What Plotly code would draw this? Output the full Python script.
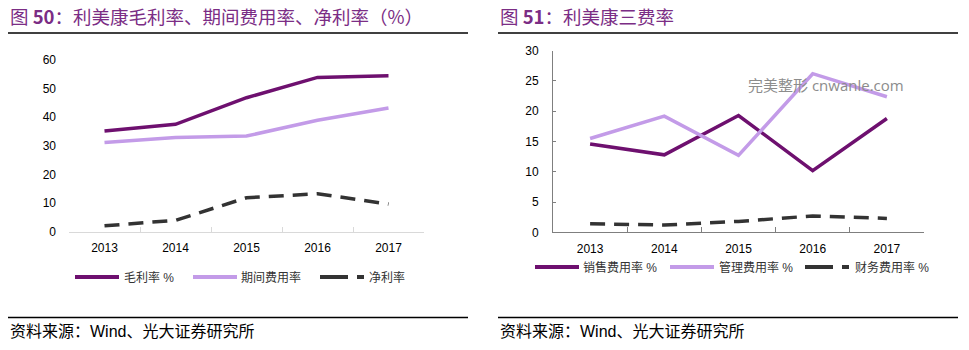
import plotly.graph_objects as go

years = ["2013", "2014", "2015", "2016", "2017"]

# Figure 50
gross_margin = [35.2, 37.5, 46.8, 53.9, 54.5]
period_expense = [31.1, 32.9, 33.4, 38.9, 43.2]
net_margin = [2.0, 3.9, 11.8, 13.2, 9.6]

# Figure 51
sales_exp = [14.6, 12.8, 19.3, 10.2, 18.8]
admin_exp = [15.5, 19.2, 12.7, 26.2, 22.4]
fin_exp = [1.4, 1.2, 1.8, 2.7, 2.3]

left_names = ["毛利率 %", "期间费用率", "净利率"]
right_names = ["销售费用率 %", "管理费用率 %", "财务费用率 %"]
left_title = "图 <b>50</b>：利美康毛利率、期间费用率、净利率（%）"
right_title = "图 <b>51</b>：利美康三费率"
source = "资料来源：Wind、光大证券研究所"
watermark = "完美整形 cnwanle.com"

DARK = "#6E106F"
LIGHT = "#C39BE8"
GRAY = "#333333"
TITLE_C = "#7B2D85"
FONT = "Liberation Sans, Arial, Noto Sans CJK SC, sans-serif"

W, H = 969, 350
def px(x):
    return x / W
def py(y):
    return 1 - y / H

fig = go.Figure()
styles = [dict(color=DARK, width=3.5), dict(color=LIGHT, width=3.5),
          dict(color=GRAY, width=3.5, dash="15px,9px")]

for vals, name, st in zip([gross_margin, period_expense, net_margin], left_names, styles):
    fig.add_trace(go.Scatter(x=years, y=vals, name=name, mode="lines", line=st,
                             xaxis="x", yaxis="y", showlegend=False))
for vals, name, st in zip([sales_exp, admin_exp, fin_exp], right_names, styles):
    fig.add_trace(go.Scatter(x=years, y=vals, name=name, mode="lines", line=st,
                             xaxis="x2", yaxis="y2", showlegend=False))

tickfont = dict(family=FONT, size=12, color="#000000")
cat_range = [-0.5, len(years) - 0.5]

fig.update_layout(
    width=W, height=H, margin=dict(l=0, r=0, t=0, b=0, autoexpand=False),
    autosize=False,
    paper_bgcolor="white", plot_bgcolor="white",
    font=dict(family=FONT, size=12, color="#000"),
    showlegend=False,
    xaxis=dict(domain=[px(69), px(424)], type="category", range=cat_range, showgrid=False,
               showline=True, linecolor="#D9D9D9", linewidth=1,
               ticks="inside", tickson="boundaries", ticklen=5, tickcolor="#D9D9D9",
               tickfont=tickfont, ticklabelstandoff=5, anchor="y", fixedrange=True,
               automargin=False),
    yaxis=dict(domain=[py(231.5), py(60)], range=[0, 60], dtick=10, showgrid=False,
               showline=False, zeroline=False, ticks="", tickfont=tickfont,
               ticklabelstandoff=12, anchor="x", fixedrange=True, automargin=False),
    xaxis2=dict(domain=[px(553), px(924)], type="category", range=cat_range, showgrid=False,
                showline=True, linecolor="#7F7F7F", linewidth=1,
                ticks="inside", tickson="boundaries", ticklen=5, tickcolor="#7F7F7F",
                tickfont=tickfont, ticklabelstandoff=5, anchor="y2", fixedrange=True,
                automargin=False),
    yaxis2=dict(domain=[py(232.3), py(50.7)], range=[0, 30], dtick=5, showgrid=False,
                showline=True, linecolor="#7F7F7F", linewidth=1, zeroline=False,
                ticks="inside", ticklen=3, tickcolor="#7F7F7F", tickfont=tickfont,
                ticklabelstandoff=11, anchor="x2", fixedrange=True, automargin=False),
)

shapes = []
ann = []
for x0, x1 in [(8, 468), (498, 958)]:
    for yy in [33, 317.5]:
        shapes.append(dict(type="line", xref="paper", yref="paper",
                           x0=px(x0), x1=px(x1), y0=py(yy), y1=py(yy),
                           line=dict(color="#000000", width=1.5)))

# manual legends (samples + labels)
def legend(starts, yy, names):
    for (s, t), name, st in zip(starts, names, styles):
        shapes.append(dict(type="line", xref="paper", yref="paper",
                           x0=px(s), x1=px(s + 44), y0=py(yy), y1=py(yy),
                           line=dict(color=st["color"], width=4,
                                     dash=("28px,9px,10px" if "dash" in st else "solid"))))
        ann.append(dict(text=name, xref="paper", yref="paper", x=px(t), y=py(yy),
                        xanchor="left", yanchor="middle", showarrow=False,
                        font=dict(family=FONT, size=12, color="#333")))

legend([(75, 122), (193, 239), (320, 367)], 277, left_names)
legend([(535, 581), (670, 717), (805, 853)], 267, right_names)

for xx, t in [(8, left_title), (498, right_title)]:
    ann.append(dict(text=t, xref="paper", yref="paper", x=px(xx), y=py(16),
                    xanchor="left", yanchor="middle", showarrow=False,
                    font=dict(family="Noto Sans CJK SC, Liberation Sans", size=18.5, color=TITLE_C)))
    ann.append(dict(text=source, xref="paper", yref="paper", x=px(xx), y=py(331),
                    xanchor="left", yanchor="middle", showarrow=False,
                    font=dict(family="Liberation Sans, Noto Sans CJK SC", size=16, color="#000")))
ann.append(dict(text=watermark, xref="paper", yref="paper", x=px(746), y=py(85),
                xanchor="left", yanchor="middle", showarrow=False,
                font=dict(family="Open Sans, Noto Sans CJK SC", size=15, color="#8C8C8C")))
fig.update_layout(shapes=shapes, annotations=ann)

fig.write_html("out.html")
